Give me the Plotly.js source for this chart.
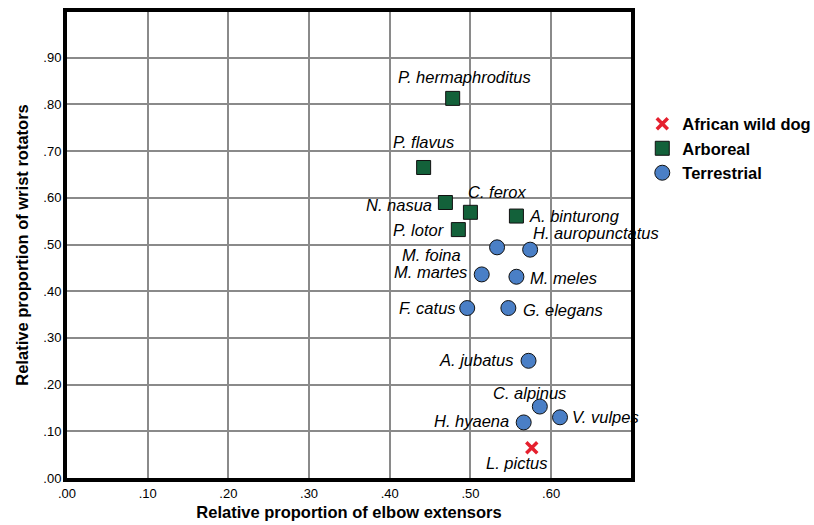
<!DOCTYPE html>
<html><head><meta charset="utf-8">
<script src="https://cdn.plot.ly/plotly-3.0.1.min.js"></script>
<style>html,body{margin:0;padding:0;background:#fff}</style>
</head><body><div id="chart" style="width:814px;height:525px"></div>
<script>
// ---- data ----
const wildDogNames = ["L. pictus"];
const wildDogX = [0.576];
const wildDogY = [0.065];

const arborealNames = ["P. hermaphroditus", "P. flavus", "N. nasua", "C. ferox", "P. lotor", "A. binturong"];
const arborealX = [0.478, 0.442, 0.469, 0.500, 0.485, 0.557];
const arborealY = [0.813, 0.665, 0.590, 0.569, 0.532, 0.561];

const terrestrialNames = ["M. foina", "H. auropunctatus", "M. martes", "M. meles", "F. catus", "G. elegans", "A. jubatus", "C. alpinus", "V. vulpes", "H. hyaena"];
const terrestrialX = [0.533, 0.574, 0.514, 0.557, 0.496, 0.547, 0.572, 0.586, 0.611, 0.566];
const terrestrialY = [0.494, 0.489, 0.436, 0.431, 0.364, 0.364, 0.251, 0.153, 0.130, 0.119];

const xTickVals = [0, 0.1, 0.2, 0.3, 0.4, 0.5, 0.6];
const xTickText = [".00", ".10", ".20", ".30", ".40", ".50", ".60"];
const yTickVals = [0, 0.1, 0.2, 0.3, 0.4, 0.5, 0.6, 0.7, 0.8, 0.9];
const yTickText = [".00", ".10", ".20", ".30", ".40", ".50", ".60", ".70", ".80", ".90"];

// ---- label placement (style only) ----
const labelPlacement = {
  "P. hermaphroditus": ["center", 12, 21],
  "P. flavus": ["center", 0, 25],
  "N. nasua": ["right", -11, -2],
  "C. ferox": ["left", -4, 20],
  "P. lotor": ["right", -11, 0],
  "A. binturong": ["left", 11, 0],
  "M. foina": ["right", -34, -8],
  "H. auropunctatus": ["left", 1, 17],
  "M. martes": ["right", -13, 2],
  "M. meles": ["left", 12, -1],
  "F. catus": ["right", -9, 0],
  "G. elegans": ["left", 13, -2],
  "A. jubatus": ["right", -14, 1],
  "C. alpinus": ["center", -10, 14],
  "V. vulpes": ["left", 10, 0],
  "H. hyaena": ["right", -13, 1],
  "L. pictus": ["center", -15, -15]
};

const FONT = "Liberation Sans, Arial, Helvetica, sans-serif";

const traces = [
  {
    type: "scatter", mode: "markers", name: "African wild dog",
    x: wildDogX, y: wildDogY, text: wildDogNames, hoverinfo: "text",
    marker: {symbol: "x-thin-open", size: 11, color: "#e5202e", line: {color: "#e5202e", width: 3.5}}
  },
  {
    type: "scatter", mode: "markers", name: "Arboreal",
    x: arborealX, y: arborealY, text: arborealNames, hoverinfo: "text",
    marker: {symbol: "square", size: 14, color: "#13613a", line: {color: "#111", width: 1}}
  },
  {
    type: "scatter", mode: "markers", name: "Terrestrial",
    x: terrestrialX, y: terrestrialY, text: terrestrialNames, hoverinfo: "text",
    marker: {symbol: "circle", size: 15, color: "#4a7fc6", line: {color: "#111", width: 1}}
  }
];

const annotations = [];
function addLabels(names, xs, ys) {
  names.forEach((n, i) => {
    const p = labelPlacement[n];
    annotations.push({
      x: xs[i], y: ys[i], xref: "x", yref: "y", text: n, showarrow: false,
      xanchor: p[0], yanchor: "middle", xshift: p[1], yshift: p[2],
      font: {family: FONT, size: 16.5, style: "italic", color: "#000"}
    });
  });
}
addLabels(wildDogNames, wildDogX, wildDogY);
addLabels(arborealNames, arborealX, arborealY);
addLabels(terrestrialNames, terrestrialX, terrestrialY);

const layout = {
  width: 814, height: 525,
  margin: {l: 67, r: 183, t: 12, b: 47, pad: 0, autoexpand: false},
  paper_bgcolor: "#fff", plot_bgcolor: "#fff",
  font: {family: FONT, color: "#000"},
  showlegend: true,
  legend: {
    x: 1.02, y: 0.797, xanchor: "left", yanchor: "top",
    font: {family: FONT, size: 16.5, weight: "bold", color: "#000"},
    traceorder: "normal", itemwidth: 30, tracegroupgap: 0,
    bgcolor: "rgba(0,0,0,0)"
  },
  xaxis: {
    range: [0, 0.699], autorange: false, fixedrange: true, automargin: false,
    tickvals: xTickVals, ticktext: xTickText, ticks: "",
    tickfont: {family: FONT, size: 13, color: "#000"},
    showgrid: true, gridcolor: "#8a8a8a", gridwidth: 2,
    zeroline: false, showline: true, linecolor: "#000", linewidth: 4, mirror: true,
    title: {text: "Relative proportion of elbow extensors", standoff: 8,
            font: {family: FONT, size: 16.5, weight: "bold", color: "#000"}}
  },
  yaxis: {
    range: [0, 0.998], autorange: false, fixedrange: true, automargin: false,
    tickvals: yTickVals, ticktext: yTickText, ticks: "", ticklabelstandoff: -1,
    tickfont: {family: FONT, size: 13, color: "#000"},
    showgrid: true, gridcolor: "#8a8a8a", gridwidth: 2,
    zeroline: false, showline: true, linecolor: "#000", linewidth: 4, mirror: true,
    title: {text: "Relative proportion of wrist rotators", standoff: 12,
            font: {family: FONT, size: 16.5, weight: "bold", color: "#000"}}
  },
  annotations: annotations
};

Plotly.newPlot("chart", traces, layout, {displayModeBar: false, staticPlot: true});
</script>
</body></html>
